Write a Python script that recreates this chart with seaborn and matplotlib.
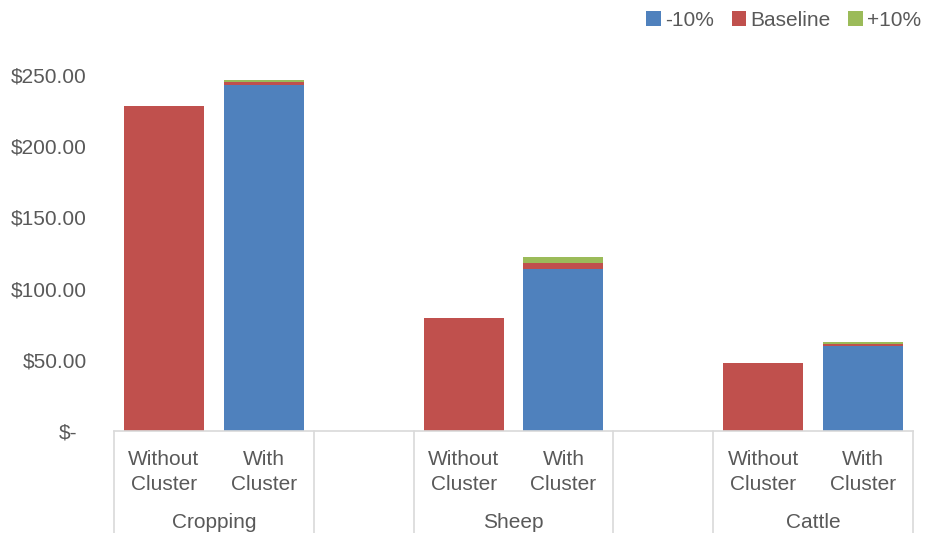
import matplotlib
matplotlib.use("Agg")
import matplotlib.pyplot as plt
import matplotlib.transforms as mtransforms
from matplotlib.patches import Patch
import numpy as np
import pandas as pd
import seaborn as sns

# Cost per enterprise under each price scenario ($)
groups = ["Cropping", "Sheep", "Cattle"]
sub_labels = ["Without\nCluster", "With\nCluster"]
without_baseline = [228.2, 79.4, 47.8]
with_minus10 = [243.0, 113.8, 59.5]
with_baseline = [244.8, 117.8, 61.0]
with_plus10 = [246.2, 122.0, 62.3]

y_ticks = [0, 50, 100, 150, 200, 250]
y_tick_labels = ["$-", "$50.00", "$100.00", "$150.00", "$200.00", "$250.00"]
legend_labels = ["-10%", "Baseline", "+10%"]

colors = {"-10%": "#4F81BD", "Baseline": "#C0504D", "+10%": "#9BBB59"}

sns.set_theme(style="white")
plt.rcParams["font.family"] = ["Liberation Sans", "DejaVu Sans"]
text_color = "#595959"
line_color = "#D9D9D9"

# Slot order: two bars per group with an empty slot between groups
slots = []
for gi, g in enumerate(groups):
    slots += [f"{g}|without", f"{g}|with"]
    if gi < len(groups) - 1:
        slots.append(f"gap{gi}")

def frame(values, kind):
    return pd.DataFrame({"slot": [f"{g}|{kind}" for g in groups], "value": values})

fig = plt.figure(figsize=(9.27, 5.33), dpi=100)
ax = fig.add_axes([114 / 927, 1 - 431 / 533, (913 - 114) / 927, (431 - 75) / 533])

# Scenario totals overlaid from largest to smallest so each band shows the step
sns.barplot(data=frame(with_plus10, "with"), x="slot", y="value", order=slots,
            color=colors["+10%"], width=0.8, linewidth=0, saturation=1, ax=ax)
sns.barplot(data=frame(with_baseline, "with"), x="slot", y="value", order=slots,
            color=colors["Baseline"], width=0.8, linewidth=0, saturation=1, ax=ax)
sns.barplot(data=frame(with_minus10, "with"), x="slot", y="value", order=slots,
            color=colors["-10%"], width=0.8, linewidth=0, saturation=1, ax=ax)
sns.barplot(data=frame(without_baseline, "without"), x="slot", y="value", order=slots,
            color=colors["Baseline"], width=0.8, linewidth=0, saturation=1, ax=ax)

ax.set_xlim(-0.5, len(slots) - 0.5)
ax.set_ylim(0, 250)
ax.set_xlabel("")
ax.set_ylabel("")

ax.set_yticks(y_ticks)
ax.set_yticklabels(y_tick_labels)
ax.tick_params(axis="y", length=0, pad=19.5, labelsize=15, labelcolor=text_color)
zero_lbl = ax.get_yticklabels()[0]
zero_lbl.set_transform(zero_lbl.get_transform()
                       + mtransforms.ScaledTranslation(-0.10, 0, fig.dpi_scale_trans))

# Two-level category axis
xt = []
xl = []
for i, s in enumerate(slots):
    if s.startswith("gap"):
        continue
    xt.append(i)
    xl.append(sub_labels[0] if s.endswith("without") else sub_labels[1])
ax.set_xticks(xt)
ax.set_xticklabels(xl, linespacing=1.35)
ax.tick_params(axis="x", length=0, pad=14, labelsize=15, labelcolor=text_color)

trans = mtransforms.blended_transform_factory(ax.transData, fig.transFigure)
group_y = 1 - 523 / 533
for gi, g in enumerate(groups):
    start = slots.index(f"{g}|without")
    ax.text(start + 0.5, group_y, g, transform=trans, ha="center", va="center",
            fontsize=15, color=text_color)

sep_x = [-0.5, 1.5, 2.5, 4.5, 5.5, 7.5]
for x in sep_x:
    ax.plot([x, x], [1 - 431 / 533, 0.0], transform=trans, color=line_color,
            lw=1.2, clip_on=False)

for side in ["top", "right", "left"]:
    ax.spines[side].set_visible(False)
ax.spines["bottom"].set_color(line_color)
ax.spines["bottom"].set_linewidth(1.2)

handles = [Patch(facecolor=colors[k], edgecolor="none") for k in legend_labels]
fig.legend(handles, legend_labels, loc="upper right", bbox_to_anchor=(1.014, 1.015),
           ncol=3, frameon=False, fontsize=15, handlelength=0.7, handleheight=0.7,
           handletextpad=0.2, columnspacing=0.85, labelcolor=text_color)

fig.savefig("out.png", dpi=100)
